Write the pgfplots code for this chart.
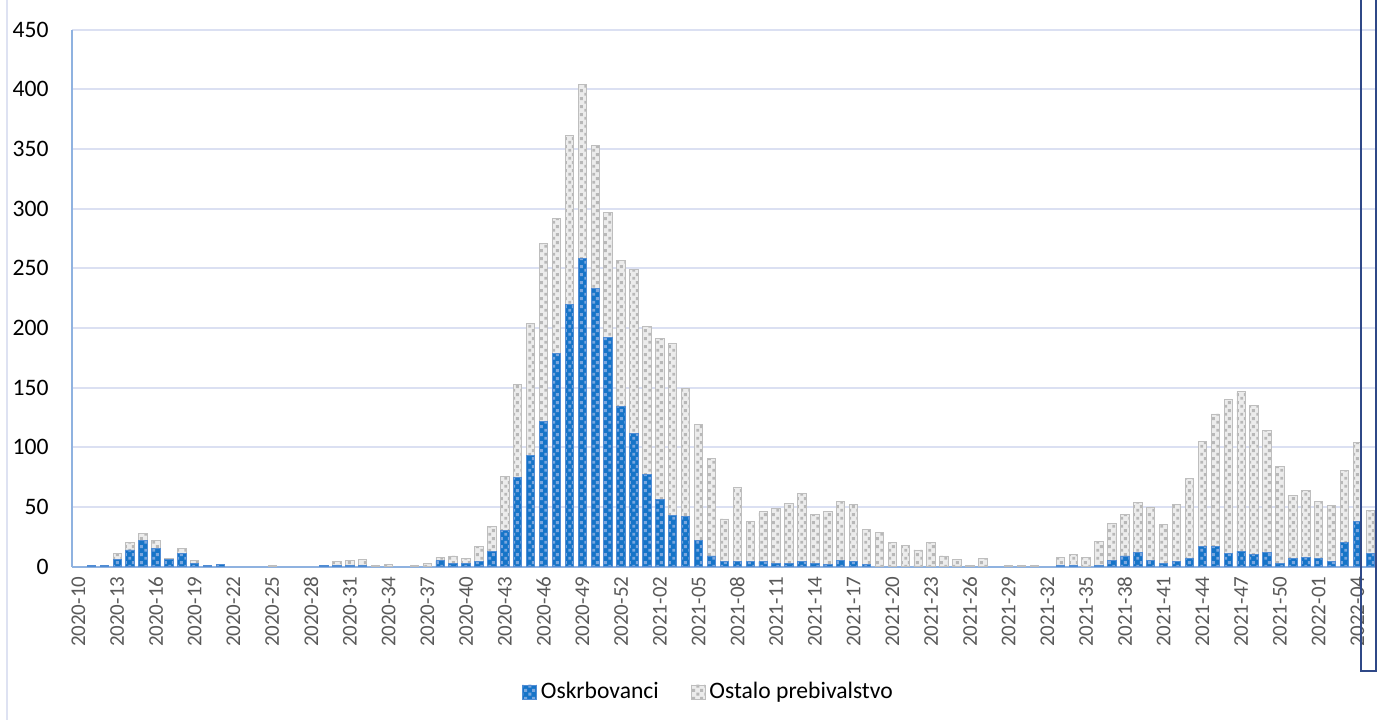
\documentclass[border=0pt]{standalone}
\usepackage{fontspec}
\setmainfont{Carlito}
\usepackage{pgfplots}
\pgfplotsset{compat=1.18}
\usepackage{pgfplotstable}
\usetikzlibrary{patterns}

\definecolor{bluebase}{RGB}{22,116,200}
\definecolor{bluesq}{RGB}{122,166,222}
\definecolor{blueedge}{RGB}{80,140,212}
\definecolor{graybase}{RGB}{236,236,236}
\definecolor{graysq}{RGB}{184,184,184}
\definecolor{grayedge}{RGB}{190,190,190}
\definecolor{gridc}{RGB}{219,224,242}
\definecolor{axisc}{RGB}{143,178,224}
\definecolor{navyc}{RGB}{47,72,135}
\definecolor{framec}{RGB}{222,226,242}
\definecolor{labc}{RGB}{89,89,89}

\pgfdeclarepatternformonly{confetti}{\pgfpoint{0bp}{0bp}}{\pgfpoint{4bp}{4bp}}{\pgfpoint{4bp}{4bp}}{%
  \pgfpathrectangle{\pgfpoint{0.2bp}{0.2bp}}{\pgfpoint{1.6bp}{1.6bp}}%
  \pgfpathrectangle{\pgfpoint{2.2bp}{2.2bp}}{\pgfpoint{1.6bp}{1.6bp}}%
  \pgfusepath{fill}}

\pgfplotsset{sqlegend/.style={legend image code/.code={\draw[##1,line width=0.3bp] (0bp,-3.5bp) rectangle (7bp,3.5bp);}}}

% idx: 0 = 2020-10 ... 43 = 2020-53, 44 = 2021-01 ... 95 = 2021-52, 96 = 2022-01 ... 100 = 2022-05
\pgfplotstableread{
idx osk ost
0 0 0
1 1 0
2 1 0
3 6 5
4 14 6
5 22 6
6 15 7
7 6 1
8 11 4
9 3 2
10 1 0
11 2 0
12 0 0
13 0 0
14 0 0
15 0 1
16 0 0
17 0 0
18 0 0
19 1 0
20 1 3
21 1 4
22 1 5
23 0 1
24 0 2
25 0 0
26 0 1
27 0 3
28 5 3
29 3 6
30 3 4
31 4 13
32 13 21
33 30 46
34 75 78
35 93 111
36 122 149
37 179 113
38 220 141
39 258 146
40 233 120
41 192 105
42 134 123
43 112 137
44 77 124
45 56 135
46 43 144
47 42 107
48 22 97
49 9 82
50 4 36
51 4 62
52 4 34
53 4 42
54 3 46
55 3 50
56 4 57
57 3 41
58 2 44
59 5 50
60 4 48
61 2 29
62 0 29
63 0 20
64 0 18
65 0 14
66 0 20
67 0 9
68 0 6
69 0 1
70 0 7
71 0 0
72 0 1
73 0 1
74 0 1
75 0 0
76 1 7
77 1 9
78 0 8
79 1 20
80 5 31
81 9 35
82 12 42
83 5 45
84 3 32
85 4 48
86 7 67
87 17 88
88 17 111
89 11 129
90 13 134
91 10 125
92 12 102
93 3 81
94 7 53
95 8 56
96 7 48
97 4 47
98 20 61
99 38 66
100 11 36
}\datatable

\begin{document}
\begin{tikzpicture}
\begin{axis}[
  at={(0,0)}, anchor=south west,
  scale only axis, width=651.5bp, height=268.5bp,
  xmin=-0.5, xmax=100.36, ymin=0, ymax=450,
  ybar stacked, bar width=4.2bp,
  axis x line*=bottom, axis y line*=left,
  axis line style={axisc, line width=0.8bp},
  ytick={0,50,...,450},
  ymajorgrids, grid style={gridc, line width=0.9bp},
  major tick length=0pt,
  /pgf/number format/assume math mode=true,
  yticklabel style={font=\fontsize{11.8bp}{14bp}\selectfont, text=black, anchor=east, inner sep=0pt, xshift=-11.5bp},
  xtick={0,3,...,99},
  xticklabels={2020-10,2020-13,2020-16,2020-19,2020-22,2020-25,2020-28,2020-31,2020-34,2020-37,2020-40,2020-43,2020-46,2020-49,2020-52,2021-02,2021-05,2021-08,2021-11,2021-14,2021-17,2021-20,2021-23,2021-26,2021-29,2021-32,2021-35,2021-38,2021-41,2021-44,2021-47,2021-50,2022-01,2022-04},
  xticklabel style={anchor=east, rotate=90, xshift=-4.8bp, inner sep=0pt, font=\fontsize{10.5bp}{12bp}\selectfont, text=labc},
  legend columns=2,
  legend style={at={(0.4893,-0.2333)}, anchor=center, draw=none, fill=none,
    font=\fontsize{11.8bp}{14bp}\selectfont, text=black,
    /tikz/every even column/.append style={column sep=14bp}},
]
\addplot[fill=bluebase, draw=blueedge, line width=0.45bp,
  postaction={pattern=confetti, pattern color=bluesq}, sqlegend]
  table[x=idx, y=osk]{\datatable};
\addlegendentry{Oskrbovanci}
\addplot[fill=graybase, draw=grayedge, line width=0.45bp,
  postaction={pattern=confetti, pattern color=graysq}, sqlegend]
  table[x=idx, y=ost]{\datatable};
\addlegendentry{Ostalo prebivalstvo}
\draw[axisc, line width=0.8bp] (rel axis cs:0,0) -- (rel axis cs:1,0);
\end{axis}
\draw[framec, line width=0.75bp] (-32.5bp,290bp) -- (-32.5bp,-80bp);
\draw[navyc, line width=1.15bp] (644.5bp,290bp) -- (644.5bp,-52.15bp) -- (652.15bp,-52.15bp) -- (652.15bp,290bp);
\pgfresetboundingbox
\useasboundingbox (-36bp,-76.65bp) rectangle (658bp,283.35bp);
\end{tikzpicture}
\end{document}
